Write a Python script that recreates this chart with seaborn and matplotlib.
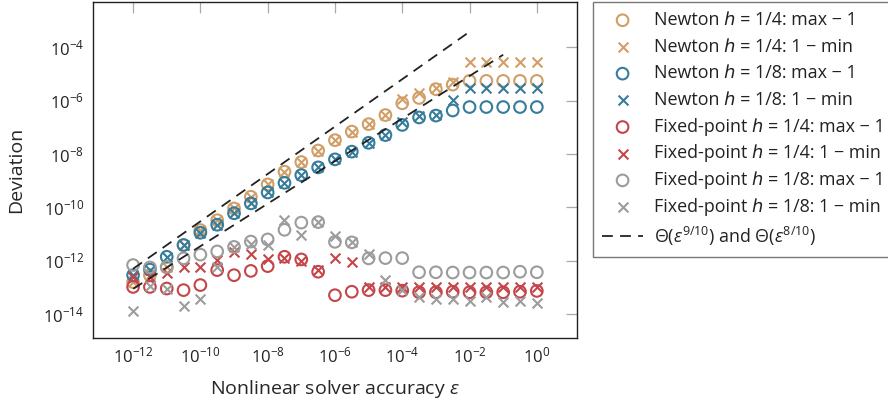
import numpy as np
import matplotlib
matplotlib.use('Agg')
import matplotlib.pyplot as plt
import matplotlib.ticker as mticker
from matplotlib.lines import Line2D
import seaborn as sns

# solver accuracy, as log10 exponents
eps_exp = [-12, -11.5, -11, -10.5, -10, -9.5, -9, -8.5, -8, -7.5, -7, -6.5, -6,
           -5.5, -5, -4.5, -4, -3.5, -3, -2.5, -2, -1.5, -1, -0.5, 0]

# deviations, as log10 exponents
newton4_max = [-12.80, -12.54, -12.25, -11.41, -10.85, -10.48, -10.04, -9.60, -9.14,
               -8.66, -8.30, -7.87, -7.48, -7.16, -6.88, -6.54, -6.10, -5.90, -5.57,
               -5.40, -5.26, -5.26, -5.26, -5.26, -5.26]
newton4_min = [-12.80, -12.54, -12.25, -11.41, -10.85, -10.48, -10.04, -9.60, -9.14,
               -8.66, -8.30, -7.87, -7.48, -7.16, -6.88, -6.54, -5.94, -5.70, -5.52,
               -5.30, -4.55, -4.55, -4.55, -4.55, -4.55]
newton8_max = [-12.54, -12.33, -11.85, -11.41, -10.95, -10.65, -10.22, -9.85, -9.44,
               -9.08, -8.79, -8.50, -8.20, -7.91, -7.58, -7.29, -6.91, -6.63, -6.56,
               -6.37, -6.24, -6.24, -6.24, -6.24, -6.24]
newton8_min = [-12.54, -12.33, -11.85, -11.41, -10.95, -10.65, -10.22, -9.85, -9.44,
               -9.08, -8.79, -8.50, -8.20, -7.91, -7.58, -7.29, -6.79, -6.56, -6.54,
               -5.97, -5.52, -5.52, -5.52, -5.52, -5.52]
fixed4_max = [-12.98, -12.98, -13.04, -13.10, -12.91, -12.35, -12.54, -12.38, -12.20,
              -11.85, -11.95, -12.41, -13.29, -13.16, -13.10, -13.10, -13.12, -13.18,
              -13.18, -13.16, -13.18, -13.18, -13.18, -13.16, -13.13]
fixed4_min = [-12.62, -12.60, -12.45, -12.25, -12.22, -11.98, -11.66, -11.75, -11.95,
              -11.90, -12.00, -12.33, -11.88, -12.04, -13.00, -12.98, -12.97, -12.97,
              -13.00, -13.00, -12.98, -12.97, -12.98, -13.00, -12.97]
fixed8_max = [-12.16, -12.25, -12.23, -11.91, -11.77, -11.65, -11.48, -11.28, -11.20,
              -10.84, -10.57, -10.55, -11.29, -11.31, -11.91, -11.90, -11.90, -12.43,
              -12.43, -12.44, -12.44, -12.44, -12.44, -12.41, -12.43]
fixed8_min = [-13.89, -12.96, -13.04, -13.70, -13.45, -12.25, -11.48, -11.38, -11.41,
              -10.48, -11.04, -10.56, -11.06, -11.31, -11.76, -12.73, -13.10, -13.36,
              -13.45, -13.42, -13.50, -13.36, -13.54, -13.51, -13.58]

# reference slopes: end points of the dashed guide lines
guide9_exp = [-12, -2]
guide9_dev = [-12.30, -3.42]
guide8_exp = [-12, -1]
guide8_dev = [-13.05, -4.28]

orange = '#d29e68'
blue = '#367c9b'
red = '#c4464a'
grey = '#9c9c9c'

series = [
    (newton4_max, 'o', orange, 'Newton \u210e = 1/4: max \u2212 1'),
    (newton4_min, 'x', orange, 'Newton \u210e = 1/4: 1 \u2212 min'),
    (newton8_max, 'o', blue, 'Newton \u210e = 1/8: max \u2212 1'),
    (newton8_min, 'x', blue, 'Newton \u210e = 1/8: 1 \u2212 min'),
    (fixed4_max, 'o', red, 'Fixed-point \u210e = 1/4: max \u2212 1'),
    (fixed4_min, 'x', red, 'Fixed-point \u210e = 1/4: 1 \u2212 min'),
    (fixed8_max, 'o', grey, 'Fixed-point \u210e = 1/8: max \u2212 1'),
    (fixed8_min, 'x', grey, 'Fixed-point \u210e = 1/8: 1 \u2212 min'),
]

sns.set_theme(style='white')
plt.rcParams['font.family'] = ['Open Sans', 'DejaVu Sans']
plt.rcParams['mathtext.fontset'] = 'custom'
plt.rcParams['mathtext.rm'] = 'Open Sans'
plt.rcParams['mathtext.it'] = 'Open Sans:italic'
plt.rcParams['mathtext.bf'] = 'Open Sans:bold'
plt.rcParams['text.color'] = '#222222'

eps = 10.0 ** np.array(eps_exp)

fig = plt.figure(figsize=(8.88, 4.05), dpi=100)
ax = fig.add_axes([0.1044, 0.165, 0.5456, 0.831])

for vals, marker, color, label in series:
    dev = 10.0 ** np.array(vals)
    if marker == 'o':
        sns.scatterplot(x=eps, y=dev, ax=ax, marker='o', s=70, facecolor='none',
                        edgecolor=color, linewidth=1.5, label=label)
    else:
        sns.scatterplot(x=eps, y=dev, ax=ax, marker='x', s=50, color=color,
                        linewidth=1.5, label=label)

sns.lineplot(x=10.0 ** np.array(guide9_exp), y=10.0 ** np.array(guide9_dev), ax=ax,
             color='#222222', linestyle=(0, (6, 4)), linewidth=1.3,
             label='\u0398($\\varepsilon^{9/10}$) and \u0398($\\varepsilon^{8/10}$)')
sns.lineplot(x=10.0 ** np.array(guide8_exp), y=10.0 ** np.array(guide8_dev), ax=ax,
             color='#222222', linestyle=(0, (6, 4)), linewidth=1.3, legend=False)

ax.set_xscale('log')
ax.set_yscale('log')
ax.set_xlim(10 ** -13.2, 10 ** 1.2)
ax.set_ylim(10 ** -14.9, 10 ** -2.29)
ax.set_xticks([10.0 ** k for k in [-12, -10, -8, -6, -4, -2, 0]])
ax.set_yticks([10.0 ** k for k in [-14, -12, -10, -8, -6, -4]])
ax.xaxis.set_minor_locator(mticker.NullLocator())
ax.yaxis.set_minor_locator(mticker.NullLocator())
ax.tick_params(which='major', direction='in', length=8, width=0.9, color='#aaaaaa',
               top=True, right=True, labelsize=12, pad=6, labelcolor='#222222')
for sp in ax.spines.values():
    sp.set_color('#222222')
    sp.set_linewidth(1.0)

ax.set_xlabel('Nonlinear solver accuracy $\\varepsilon$', fontsize=14, labelpad=8)
ax.set_ylabel('Deviation', fontsize=14, labelpad=13)

handles, labels = ax.get_legend_handles_labels()
order = [i for i, h in enumerate(handles) if not isinstance(h, Line2D)] + \
        [i for i, h in enumerate(handles) if isinstance(h, Line2D)]
ax.legend([handles[i] for i in order], [labels[i] for i in order],
          loc='upper left', bbox_to_anchor=(593 / 888, 1 - 2 / 405),
          bbox_transform=fig.transFigure, frameon=True, fancybox=False,
          edgecolor='#555555', fontsize=12.9, labelspacing=0.485, borderaxespad=0,
          handlelength=2.3, handletextpad=0.62, borderpad=0.5)
ax.get_legend().get_frame().set_linewidth(1.0)

fig.savefig('out.png', dpi=100)
